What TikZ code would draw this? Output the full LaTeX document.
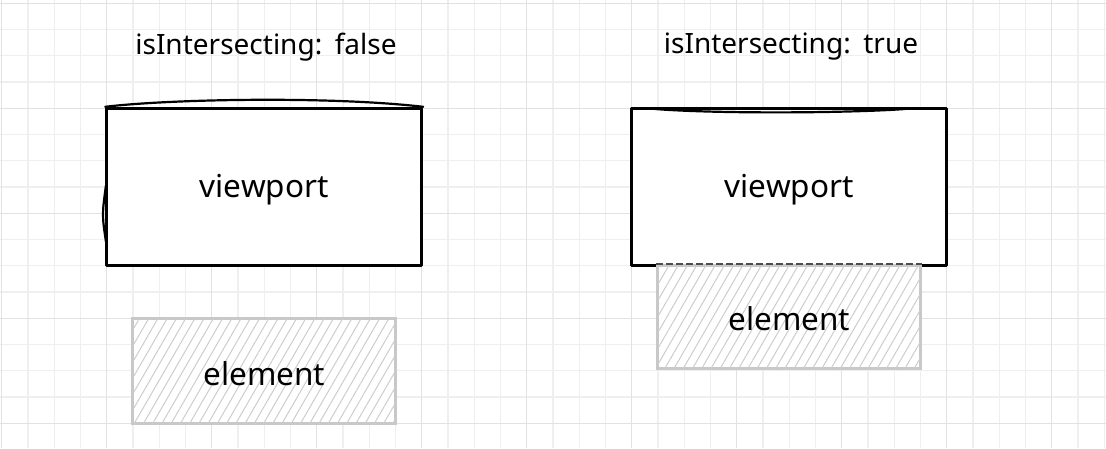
\documentclass[tikz,border=0pt]{standalone}
\usepackage{fontspec}
\setmainfont{Noto Sans}
\usetikzlibrary{patterns.meta}

\definecolor{gridminor}{HTML}{EFEFEF}
\definecolor{gridmajor}{HTML}{E2E2E2}
\definecolor{hatchgrey}{HTML}{CDCDCD}
\definecolor{edgegrey}{HTML}{C8C8C8}

\tikzset{
  viewbox/.style={draw=black, line width=3pt, fill=white, line join=round,
    minimum width=315pt, minimum height=157.5pt, inner sep=0pt},
  elembox/.style={draw=edgegrey, line width=3pt, fill=white, inner sep=0pt,
    postaction={pattern={Lines[angle=60,distance=8pt,line width=1pt]}, pattern color=hatchgrey}},
  sketch/.style={draw=black, line width=2.2pt, line cap=round},
  title/.style={font=\fontsize{28}{32}\selectfont},
  boxtext/.style={font=\fontsize{31.5}{36}\selectfont}
}

\begin{document}
\begin{tikzpicture}[x=1pt, y=-1pt]
  % page and grid
  \fill[white] (0,0) rectangle (1106,448);
  \useasboundingbox (0,0) rectangle (1106,448);
  \foreach \i in {0,...,42}
    \draw[gridminor, line width=1.2pt] ({1.7+26.25*\i},0) -- ({1.7+26.25*\i},448);
  \foreach \i in {0,...,16}
    \draw[gridminor, line width=1.2pt] (0,{3.3+26.25*\i}) -- (1106,{3.3+26.25*\i});
  \foreach \i in {0,...,10}
    \draw[gridmajor, line width=1.5pt] ({1.7+105*\i},0) -- ({1.7+105*\i},448);
  \foreach \i in {0,...,4}
    \draw[gridmajor, line width=1.5pt] (0,{3.3+105*\i}) -- (1106,{3.3+105*\i});

  % left: not intersecting
  \node[title] (titleL) at (266,47) {isIntersecting:\hspace{0.45em}false};
  \node[viewbox] (viewL) at (264.2,187.05) {};
  \node[boxtext] (viewLtext) at (264.2,190) {viewport};
  \draw[sketch] (viewL.north west) .. controls (170,99) and (330,96) .. (viewL.north east);
  \draw[sketch] (106,185) .. controls (102,215) .. (106,242);
  \node[elembox, minimum width=262.5pt, minimum height=105pt] (elemL) at (264.2,370.8) {};
  \node[boxtext] (elemLtext) at (264.2,374) {element};

  % right: intersecting
  \node[title] (titleR) at (791,47) {isIntersecting:\hspace{0.45em}true};
  \node[viewbox] (viewR) at (789.2,187.05) {};
  \node[boxtext] (viewRtext) at (789.2,190) {viewport};
  \draw[sketch] (655,109) .. controls (720,114) and (850,113) .. (905,109);
  \node[elembox, minimum width=262.5pt, minimum height=103pt] (elemR) at (789.2,317.3) {};
  \draw[dash pattern=on 7pt off 3pt, line width=2pt, black!70] (elemR.north west) -- (elemR.north east);
  \node[boxtext] (elemRtext) at (789.2,319) {element};
\end{tikzpicture}
\end{document}
